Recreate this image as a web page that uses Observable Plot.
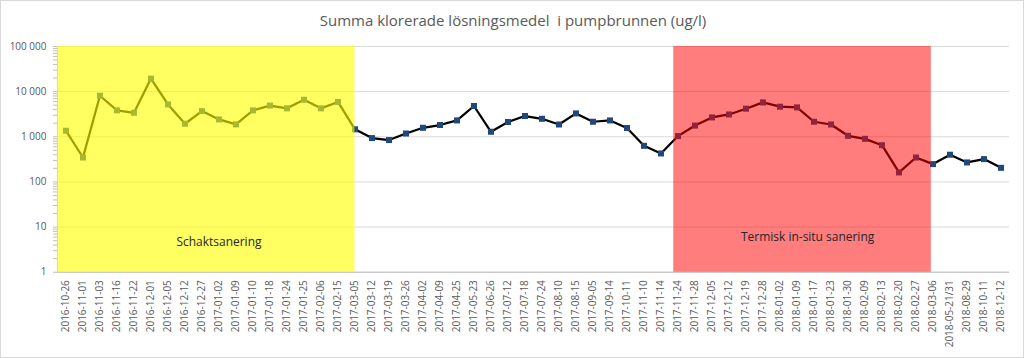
<!DOCTYPE html>
<html>
<head>
<meta charset="utf-8">
<script src="https://cdn.jsdelivr.net/npm/d3@7"></script>
<script src="https://cdn.jsdelivr.net/npm/@observablehq/plot@0.6"></script>
<style>
  html, body { margin: 0; padding: 0; background: #fff; }
  #wrap { position: relative; width: 1024px; height: 358px; box-sizing: border-box; border: 1px solid #D9D9D9; overflow: hidden; }
  #title { position: absolute; top: 9px; left: 0; width: 1024px; text-align: center; font-family: "Open Sans", sans-serif; font-size: 15px; color: #595959; white-space: pre; }
  #chart { position: absolute; top: -1px; left: -1px; }
</style>
</head>
<body>
<div id="wrap">
  <div id="title">Summa klorerade lösningsmedel  i pumpbrunnen (ug/l)</div>
  <div id="chart"></div>
</div>
<script>
const dates = [
  "2016-10-26","2016-11-01","2016-11-03","2016-11-16","2016-11-22","2016-12-01","2016-12-05","2016-12-12",
  "2016-12-27","2017-01-02","2017-01-09","2017-01-10","2017-01-18","2017-01-24","2017-01-25","2017-02-06",
  "2017-02-15","2017-03-05","2017-03-12","2017-03-19","2017-03-26","2017-04-02","2017-04-09","2017-04-25",
  "2017-05-23","2017-06-26","2017-07-12","2017-07-18","2017-07-24","2017-08-10","2017-08-15","2017-09-05",
  "2017-09-14","2017-10-11","2017-11-10","2017-11-14","2017-11-24","2017-11-28","2017-12-05","2017-12-12",
  "2017-12-19","2017-12-28","2018-01-02","2018-01-09","2018-01-17","2018-01-23","2018-01-30","2018-02-09",
  "2018-02-13","2018-02-20","2018-02-27","2018-03-06","2018-05-21/31","2018-08-29","2018-10-11","2018-12-12"
];
const values = [
  1360, 347, 8100, 3840, 3400, 19400, 5200, 1940,
  3700, 2420, 1880, 3840, 4900, 4260, 6600, 4260,
  5900, 1460, 935, 845, 1180, 1580, 1820, 2300,
  4800, 1290, 2120, 2880, 2500, 1870, 3290, 2150,
  2300, 1560, 630, 427, 1035, 1770, 2680, 3120,
  4180, 5760, 4630, 4470, 2150, 1870, 1050, 900,
  650, 162, 347, 248, 400, 270, 320, 205
];
const yTickValues = [1, 10, 100, 1000, 10000, 100000];

const regionNames = ["Schaktsanering", "Termisk in-situ sanering"];
const regionStartDates = [null, "2017-11-24"];
const regionEndDates = ["2017-03-05", "2018-03-06"];
const regionColors = ["#FFFF00", "#FF0000"];
const regionOpacity = [0.62, 0.51];

const data = dates.map((d, i) => ({i, date: d, v: values[i]}));
const idx = d => d === null ? -0.5 : dates.indexOf(d);
const regions = regionNames.map((name, k) => {
  const s = k === 0 ? idx(regionStartDates[k]) : idx(regionStartDates[k]) - 0.25;
  const e = k === 0 ? idx(regionEndDates[k]) : idx(regionEndDates[k]) - 0.1;
  return {name, x1: s, x2: e, fill: regionColors[k], op: regionOpacity[k],
          lx: k === 0 ? (s + e) / 2 + 0.75 : (s + e) / 2 + 0.3, ly: k === 0 ? 4.6 : 6};
});

const minorTicks = [];
for (let p = 0; p < 5; p++) for (let m = 1; m <= 9; m++) minorTicks.push(m * Math.pow(10, p));
minorTicks.push(100000);

const fmt = d => d3.format(",")(d).replace(/,/g, " ");

const chart = Plot.plot({
  width: 1024,
  height: 358,
  marginLeft: 57,
  marginRight: 14,
  marginTop: 46,
  marginBottom: 86,
  style: {fontFamily: "Open Sans, sans-serif", fontSize: "10px", color: "#595959", background: "transparent"},
  x: {type: "linear", domain: [-0.5, dates.length - 0.5], label: null},
  y: {type: "log", domain: [1, 100000], label: null},
  marks: [
    Plot.gridY(yTickValues, {stroke: "#D9D9D9", strokeOpacity: 1}),
    Plot.ruleX([-0.5], {stroke: "#BFBFBF"}),
    Plot.ruleY([1], {stroke: "#BFBFBF"}),
    Plot.axisY(minorTicks, {tickSize: 4, tickFormat: () => "", stroke: "#BFBFBF"}),
    Plot.axisY(yTickValues, {tickSize: 0, tickPadding: 11, tickFormat: fmt, fill: "#595959", fontSize: 10}),
    Plot.axisX(d3.range(dates.length), {tickSize: 0, tickRotate: -90, tickPadding: 8, tickFormat: i => dates[i], fill: "#595959", fontSize: 10}),
    Plot.line(data, {x: "i", y: "v", stroke: "#000", strokeWidth: 2.25}),
    Plot.dot(data, {x: "i", y: "v", symbol: "square", fill: "#1F497D", stroke: "none", r: 3.4}),
    Plot.rect(regions, {x1: "x1", x2: "x2", y1: 1, y2: 100000, fill: "fill", fillOpacity: "op"}),
    Plot.text(regions, {x: "lx", y: "ly", text: "name", fontSize: 12, fill: "#262626"})
  ]
});
document.getElementById("chart").appendChild(chart);
</script>
</body>
</html>
